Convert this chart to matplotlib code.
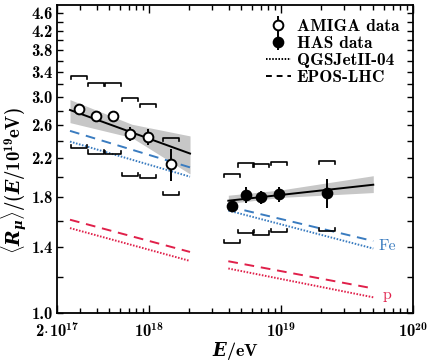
from matplotlib import pyplot as plt
from matplotlib.ticker import FixedLocator, FixedFormatter, NullFormatter
import numpy as np

plt.rcParams['font.family'] = ['cmb10', 'DejaVu Serif']
plt.rcParams['mathtext.fontset'] = 'custom'
plt.rcParams['mathtext.rm'] = 'cmb10'
plt.rcParams['mathtext.bf'] = 'cmb10'
plt.rcParams['mathtext.it'] = 'DejaVu Serif:italic:bold'
plt.rcParams['axes.unicode_minus'] = False

# AMIGA (open) and HAS (filled) measurements
amiga_E = [2.94e17, 3.93e17, 5.34e17, 7.15e17, 9.8e17, 1.46e18]
amiga_R = [2.82, 2.73, 2.72, 2.49, 2.45, 2.13]
amiga_err = [0.04, 0.04, 0.08, 0.09, 0.10, 0.17]
amiga_sys_hi = [3.34, 3.22, 3.22, 2.98, 2.90, 2.44]
amiga_sys_lo = [2.31, 2.25, 2.24, 2.01, 1.99, 1.82]

has_E = [4.27e18, 5.39e18, 7.0e18, 9.7e18, 2.24e19]
has_R = [1.727, 1.823, 1.80, 1.832, 1.842]
has_err = [0.03, 0.077, 0.06, 0.07, 0.135]
has_sys_hi = [2.03, 2.14, 2.13, 2.16, 2.17]
has_sys_lo = [1.43, 1.50, 1.49, 1.51, 1.52]

# fits and their bands
amiga_fit_E = [2.51e17, 2.04e18]
amiga_fit_R = [2.808, 2.25]
amiga_band_E = [2.51e17, 7.37e17, 2.04e18]
amiga_band_hi = [2.96, 2.612, 2.461]
amiga_band_lo = [2.633, 2.441, 2.028]

has_fit_E = [3.98e18, 5.0e19]
has_fit_R = [1.77, 1.92]
has_band_E = [3.98e18, 1.0e19, 5.0e19]
has_band_hi = [1.82, 1.87, 2.01]
has_band_lo = [1.745, 1.80, 1.845]

# simulations
sim_E_lo = [2.51e17, 2.04e18]
sim_E_hi = [3.98e18, 5.0e19]
fe_epos_lo = [2.525, 2.097]
fe_qgs_lo = [2.391, 2.0]
p_epos_lo = [1.607, 1.364]
p_qgs_lo = [1.54, 1.303]
fe_epos_hi = [1.719, 1.442]
fe_qgs_hi = [1.684, 1.388]
p_epos_hi = [1.301, 1.133]
p_qgs_hi = [1.254, 1.083]

y_ticks = [1.0, 1.2, 1.4, 1.6, 1.8, 2.0, 2.2, 2.4, 2.6, 2.8, 3.0, 3.2, 3.4, 3.6, 3.8, 4.0, 4.2, 4.4, 4.6]

blue = '#3a7cc0'
red = '#e0204a'

fig = plt.figure(figsize=(4.36, 3.62), dpi=100)
ax = fig.add_axes([0.1307, 0.1354, 0.8165, 0.852])
ax.set_xscale('log')
ax.set_yscale('log')

ax.fill_between(amiga_band_E, amiga_band_lo, amiga_band_hi, color='0.78', lw=0, zorder=1)
ax.fill_between(has_band_E, has_band_lo, has_band_hi, color='0.78', lw=0, zorder=1)

for E, (fe_e, fe_q, p_e, p_q) in [(sim_E_lo, (fe_epos_lo, fe_qgs_lo, p_epos_lo, p_qgs_lo)),
                                  (sim_E_hi, (fe_epos_hi, fe_qgs_hi, p_epos_hi, p_qgs_hi))]:
    ax.plot(E, fe_e, color=blue, lw=1.4, ls=(0, (5, 3.5)), zorder=2)
    ax.plot(E, fe_q, color=blue, lw=1.4, ls=(0, (0.8, 0.8)), zorder=2)
    ax.plot(E, p_e, color=red, lw=1.4, ls=(0, (5, 3.5)), zorder=2)
    ax.plot(E, p_q, color=red, lw=1.4, ls=(0, (0.8, 0.8)), zorder=2)

ax.plot(amiga_fit_E, amiga_fit_R, color='k', lw=1.4, zorder=3)
ax.plot(has_fit_E, has_fit_R, color='k', lw=1.4, zorder=3)

# systematic brackets
fw = 1.15
tk = 1.016
for E_list, hi_list, lo_list in [(amiga_E, amiga_sys_hi, amiga_sys_lo), (has_E, has_sys_hi, has_sys_lo)]:
    for E, hi, lo in zip(E_list, hi_list, lo_list):
        ax.plot([E / fw, E / fw, E * fw, E * fw], [hi / tk, hi, hi, hi / tk], color='k', lw=1.2, zorder=3)
        ax.plot([E / fw, E / fw, E * fw, E * fw], [lo * tk, lo, lo, lo * tk], color='k', lw=1.2, zorder=3)

h1 = ax.errorbar(amiga_E, amiga_R, yerr=amiga_err, fmt='o', ms=7, mfc='white', mec='k', mew=1.4,
                 ecolor='k', elinewidth=1.4, capsize=0, zorder=4)
h2 = ax.errorbar(has_E, has_R, yerr=has_err, fmt='o', ms=7, mfc='k', mec='k', mew=1.4,
                 ecolor='k', elinewidth=1.4, capsize=0, zorder=4)
h3, = ax.plot([], [], color='k', lw=1.4, ls=(0, (0.8, 0.8)))
h4, = ax.plot([], [], color='k', lw=1.4, ls=(0, (3, 2.5)))

ax.legend([h1, h2, h3, h4], ['AMIGA data', 'HAS data', 'QGSJetII-04', 'EPOS-LHC'],
          loc='upper right', frameon=False, fontsize=12.5, handlelength=1.4, handletextpad=0.35,
          labelspacing=0.12, borderaxespad=0.5, borderpad=0.3)

ax.text(6.4e19, 1.404, 'Fe', color=blue, fontsize=11.5, family='cmr10', ha='center', va='center')
ax.text(6.4e19, 1.095, 'p', color=red, fontsize=11.5, family='cmr10', ha='center', va='center')

ax.set_xlim(2e17, 1e20)
ax.set_ylim(1.0, 4.8)

ax.xaxis.set_major_locator(FixedLocator([2e17, 1e18, 1e19, 1e20]))
ax.xaxis.set_major_formatter(FixedFormatter([r'$2\!\cdot\!10^{17}$', r'$10^{18}$', r'$10^{19}$', r'$10^{20}$']))
ax.xaxis.set_minor_locator(FixedLocator([m * 10.0 ** d for d in (17, 18, 19) for m in range(2, 10)]))
ax.xaxis.set_minor_formatter(NullFormatter())
ax.yaxis.set_major_locator(FixedLocator(y_ticks))
ax.yaxis.set_major_formatter(FixedFormatter(['%.1f' % t if i % 2 == 0 else '' for i, t in enumerate(y_ticks)]))
ax.yaxis.set_minor_formatter(NullFormatter())
ax.yaxis.set_minor_locator(FixedLocator([]))

ax.tick_params(which='both', direction='in', top=True, right=True, labelsize=12, width=1.0)
ax.tick_params(axis='x', which='major', length=6, pad=6)
ax.tick_params(axis='x', which='minor', length=3.5)
ax.tick_params(axis='y', which='major', length=4.5, pad=3)
for s in ax.spines.values():
    s.set_linewidth(1.3)

ax.set_xlabel(r'$E/\mathrm{eV}$', fontsize=13, labelpad=0)
ax.set_ylabel(r'$\langle R_{\mu}\rangle/(E/10^{19}\mathrm{eV})$', fontsize=13.5)
ax.yaxis.set_label_coords(-0.08, 0.43)

fig.savefig('out.png', dpi=100)
